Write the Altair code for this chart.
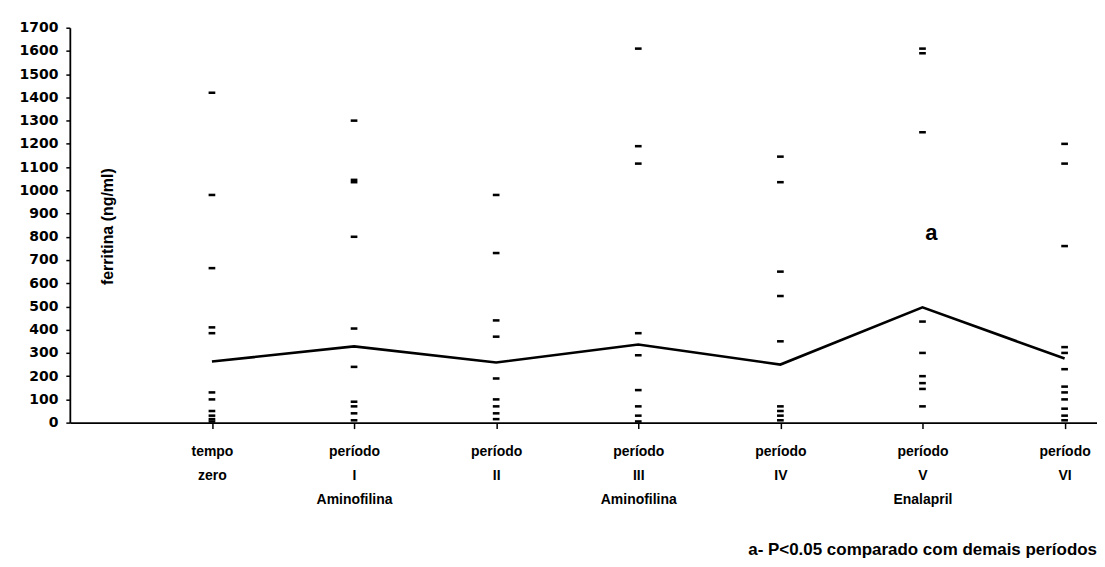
import altair as alt
import pandas as pd

# category positions and labels
cat_pos = [1, 2, 3, 4, 5, 6, 7]
label_line1 = ["tempo", "período", "período", "período", "período", "período", "período"]
label_line2 = ["zero", "I", "II", "III", "IV", "V", "VI"]
label_line3 = ["", "Aminofilina", "", "Aminofilina", "", "Enalapril", ""]

# individual values (ng/ml)
tempo_zero = [1420, 980, 665, 410, 385, 130, 100, 50, 30, 15, 5]
periodo_I = [1300, 1045, 1035, 800, 405, 240, 90, 70, 40, 10]
periodo_II = [980, 730, 440, 370, 190, 100, 70, 40, 15]
periodo_III = [1610, 1190, 1115, 385, 290, 140, 70, 30, 5]
periodo_IV = [1145, 1035, 650, 545, 350, 70, 50, 30, 10]
periodo_V = [1610, 1590, 1250, 435, 300, 200, 170, 145, 70]
periodo_VI = [1200, 1115, 760, 325, 300, 230, 155, 130, 100, 60, 30, 10]

# mean line
medias = [263, 328, 259, 336, 250, 496, 276]

y_ticks = list(range(0, 1800, 100))

series = [tempo_zero, periodo_I, periodo_II, periodo_III, periodo_IV, periodo_V, periodo_VI]
rows = []
for pos, vals in zip(cat_pos, series):
    for v in vals:
        rows.append({"pos": pos, "val": v})
pts = pd.DataFrame(rows)
mean_df = pd.DataFrame({"pos": cat_pos, "val": medias})
ann_df = pd.DataFrame({"pos": [6], "val": [815], "txt": ["a"]})

parts = []
for p, a, b, c in zip(cat_pos, label_line1, label_line2, label_line3):
    items = [s for s in (a, b, c) if s]
    arr = "[" + ",".join("'" + s + "'" for s in items) + "]"
    parts.append((p, arr))
expr = "''"
for p, arr in reversed(parts):
    expr = f"datum.value == {p} ? {arr} : ({expr})"

FONT = "Liberation Sans"
NUMFONT = "DejaVu Sans"

x_scale = alt.Scale(domain=[0, 7.228], nice=False, zero=False)
y_scale = alt.Scale(domain=[0, 1700], nice=False)

x_axis = alt.Axis(
    values=cat_pos, labelExpr=expr, title=None, grid=False,
    tickSize=6, tickColor="black", tickWidth=1.5,
    domainColor="black", domainWidth=1.8,
    labelFont=FONT, labelFontSize=14, labelFontWeight="bold", labelColor="black",
    labelLineHeight=24, labelPadding=16, labelBaseline="top",
    labelOverlap=False, labelBound=False, labelFlush=False,
)
y_axis = alt.Axis(
    values=y_ticks, format="d", grid=False, title="ferritina (ng/ml)",
    tickSize=4, tickColor="black", tickWidth=1.5,
    domainColor="black", domainWidth=1.8,
    labelFont=NUMFONT, labelFontSize=14, labelFontWeight="bold", labelColor="black",
    labelPadding=8, labelOverlap=False, labelBound=False, labelFlush=False,
    titleFont=FONT, titleFontSize=16, titleFontWeight="bold", titleColor="black",
    titleX=38, titleY=199, titleAngle=270, titleAlign="center", titleBaseline="middle",
)

X = alt.X("pos:Q", scale=x_scale, axis=x_axis)
Y = alt.Y("val:Q", scale=y_scale, axis=y_axis)

points = alt.Chart(pts).mark_point(
    shape="M-1,-0.38H1V0.38H-1Z", filled=True, color="black", opacity=1, size=45
).encode(x=X, y=Y)

line = alt.Chart(mean_df).mark_line(color="black", strokeWidth=2.6).encode(x=X, y=Y)

ann = alt.Chart(ann_df).mark_text(
    font=FONT, fontSize=22, fontWeight="bold", color="black", dx=9
).encode(x=X, y=Y, text="txt:N")

chart = alt.layer(points, line, ann).properties(
    width=1030,
    height=396,
    autosize=alt.AutoSizeParams(type="none"),
    padding={"left": 62, "top": 19, "right": 0, "bottom": 140},
    title=alt.TitleParams(
        text="a- P<0.05 comparado com demais períodos",
        orient="bottom", anchor="end", font=FONT, fontSize=17,
        fontWeight="bold", color="black", offset=36,
    ),
).configure_view(stroke=None)

chart.save("out.html", embed_options={"renderer": "svg", "actions": False})
